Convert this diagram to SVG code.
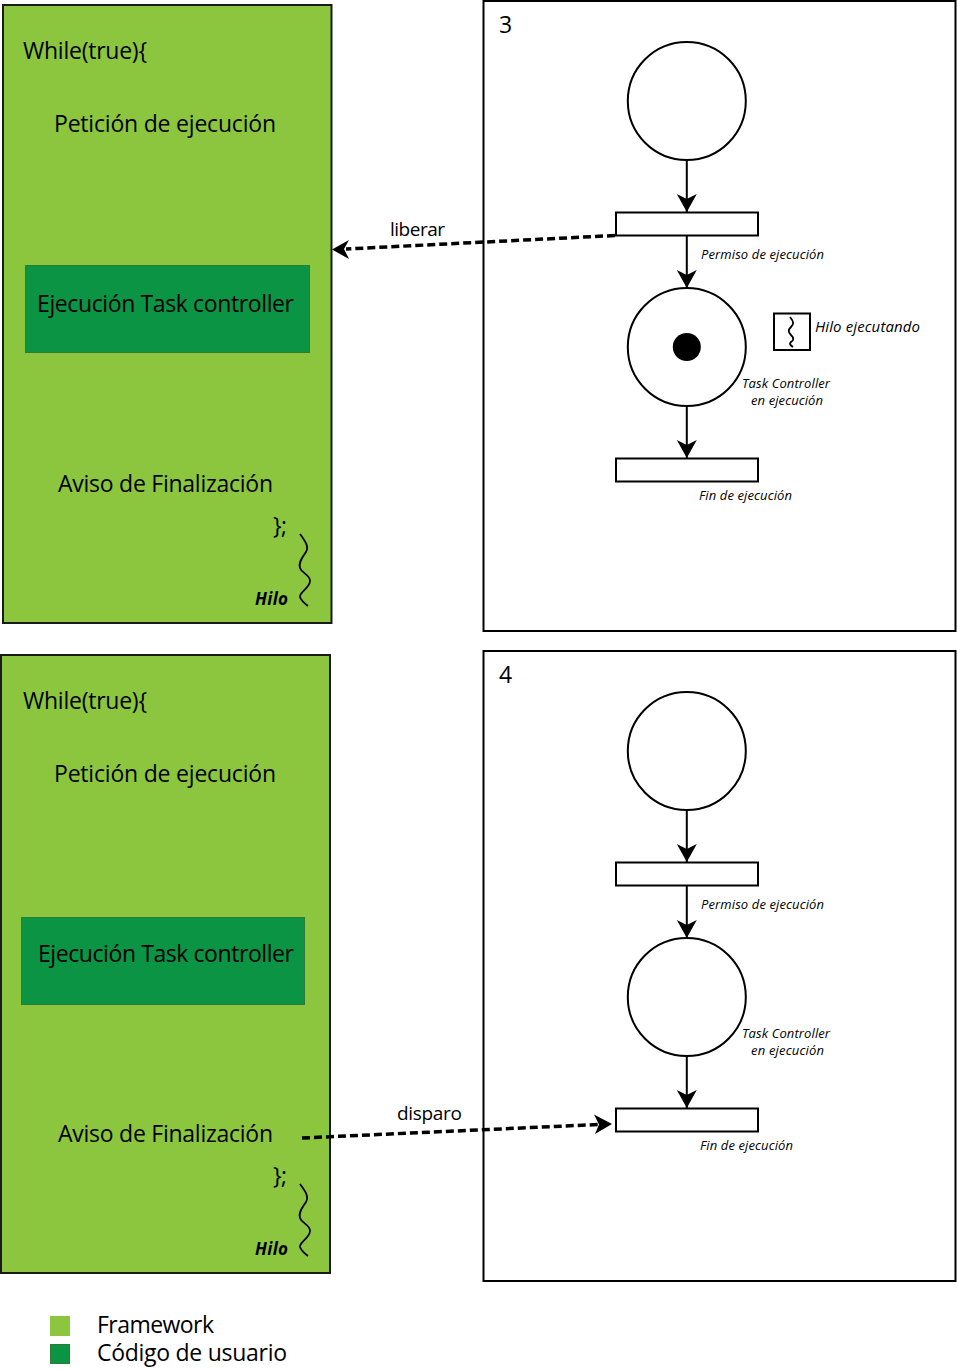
<svg xmlns="http://www.w3.org/2000/svg" width="957" height="1369" viewBox="0 0 957 1369">
<style>
text{font-family:"Open Sans","Noto Sans","DejaVu Sans",sans-serif;fill:#000}
.g{fill:#8cc63f;stroke:#1a1a1a;stroke-width:2}
.u{fill:#0b9444;stroke:#2f7a34;stroke-width:1}
.b{fill:#fff;stroke:#000;stroke-width:2}
.p{fill:#fff;stroke:#000;stroke-width:2}
.l{font-size:23px}
.s{font-size:13px;font-style:italic}
.w{fill:none;stroke:#000;stroke-width:1.8}
.c{fill:none;stroke:#000;stroke-width:2}
.d{fill:none;stroke:#000;stroke-width:3.5;stroke-dasharray:8 4}
</style>
<defs>
<marker id="a" markerUnits="userSpaceOnUse" markerWidth="22" markerHeight="22" refX="18" refY="10" orient="auto"><path d="M0 0L18 10L0 20L5 10Z" fill="#000"/></marker>
</defs>
<g id="panel3"><rect class="b" x="483.500" y="1" width="472" height="630"/><text x="499" y="33" class="l" textLength="13">3</text></g>
<g id="panel4"><rect class="b" x="483.500" y="651" width="472" height="630"/><text x="499" y="683" class="l" textLength="13">4</text></g>
<g id="code3">
<rect class="g" x="3" y="5" width="328.500" height="618"/>
<rect class="u" x="25.500" y="265.500" width="284" height="87"/>
<text x="23" y="59" class="l" textLength="124">While(true){</text>
<text x="54" y="132" class="l" textLength="222">Petición de ejecución</text>
<text x="37" y="312" class="l" textLength="257">Ejecución Task controller</text>
<text x="58" y="492" class="l" textLength="215">Aviso de Finalización</text>
<text x="273" y="534" class="l" textLength="14">};</text>
<text x="255" y="605" font-size="17" font-weight="700" font-style="italic" textLength="33">Hilo</text>
<path class="w" d="M300 534C306 542 309 547 306 552C303 557 298 562 300 568C302 574 310 574 310 581C310 588 299 592 300 597C301 600 304 603 308 606"/>
</g>
<g id="code4">
<rect class="g" x="1" y="655" width="329" height="618"/>
<rect class="u" x="21.500" y="917.500" width="283" height="87"/>
<text x="23" y="709" class="l" textLength="124">While(true){</text>
<text x="54" y="782" class="l" textLength="222">Petición de ejecución</text>
<text x="38" y="962" class="l" textLength="256">Ejecución Task controller</text>
<text x="58" y="1142" class="l" textLength="215">Aviso de Finalización</text>
<text x="273" y="1184" class="l" textLength="14">};</text>
<text x="255" y="1255" font-size="17" font-weight="700" font-style="italic" textLength="33">Hilo</text>
<path class="w" d="M300 1184C306 1192 309 1197 306 1202C303 1207 298 1212 300 1218C302 1224 310 1224 310 1231C310 1238 299 1242 300 1247C301 1250 304 1253 308 1256"/>
</g>
<g id="place-3a"><circle class="p" cx="686.800" cy="101" r="59"/></g>
<g id="trans-3a"><rect class="p" x="616" y="212.500" width="142" height="23"/><text x="701" y="259" class="s" textLength="123">Permiso de ejecución</text></g>
<g id="place-3b"><circle class="p" cx="686.800" cy="347" r="59"/><circle cx="686.800" cy="347" r="14"/><text x="742" y="388" class="s" textLength="88">Task Controller</text><text x="751" y="405" class="s" textLength="72">en ejecución</text></g>
<g id="trans-3b"><rect class="p" x="616" y="458.500" width="142" height="23"/><text x="699" y="500" class="s" textLength="93">Fin de ejecución</text></g>
<g id="thread-3"><rect class="p" x="774" y="313.500" width="36" height="36.500"/><path class="w" d="M790 317C794 322 794 324 791 327C788 330 788 332 791 335C794 338 794 340 791 342C789 344 790 345 793 347"/><text x="815" y="332" font-size="15" font-style="italic" textLength="105">Hilo ejecutando</text></g>
<g id="place-4a"><circle class="p" cx="686.800" cy="751" r="59"/></g>
<g id="trans-4a"><rect class="p" x="616" y="862.500" width="142" height="23"/><text x="701" y="909" class="s" textLength="123">Permiso de ejecución</text></g>
<g id="place-4b"><circle class="p" cx="686.800" cy="997" r="59"/><text x="742" y="1038" class="s" textLength="88">Task Controller</text><text x="751" y="1055" class="s" textLength="73">en ejecución</text></g>
<g id="trans-4b"><rect class="p" x="616" y="1108.500" width="142" height="23"/><text x="700" y="1150" class="s" textLength="93">Fin de ejecución</text></g>
<g id="connectors">
<path class="c" marker-end="url(#a)" d="M686.800 160V212"/>
<path class="c" marker-end="url(#a)" d="M686.800 236V288"/>
<path class="c" marker-end="url(#a)" d="M686.800 406V458"/>
<path class="c" marker-end="url(#a)" d="M686.800 810V862"/>
<path class="c" marker-end="url(#a)" d="M686.800 886V938"/>
<path class="c" marker-end="url(#a)" d="M686.800 1056V1108"/>
<path class="d" d="M615 235.500L346 249"/>
<path d="M332 249.500L349 240L344 249L349 259Z" fill="#000"/>
<path class="d" d="M302 1138L598 1124.500"/>
<path d="M612 1124L594 1114.500L599 1124.500L595 1134Z" fill="#000"/>
</g>
<text x="390" y="236" font-size="19" textLength="55">liberar</text>
<text x="397" y="1120" font-size="19" textLength="65">disparo</text>
<g id="legend">
<rect x="50" y="1316" width="20" height="20" fill="#8cc63f"/>
<rect x="50.500" y="1344.500" width="19" height="19" fill="#0b9444" stroke="#2f7a34"/>
<text x="97" y="1333" class="l" textLength="117">Framework</text>
<text x="97" y="1361" class="l" textLength="190">Código de usuario</text>
</g>
</svg>
